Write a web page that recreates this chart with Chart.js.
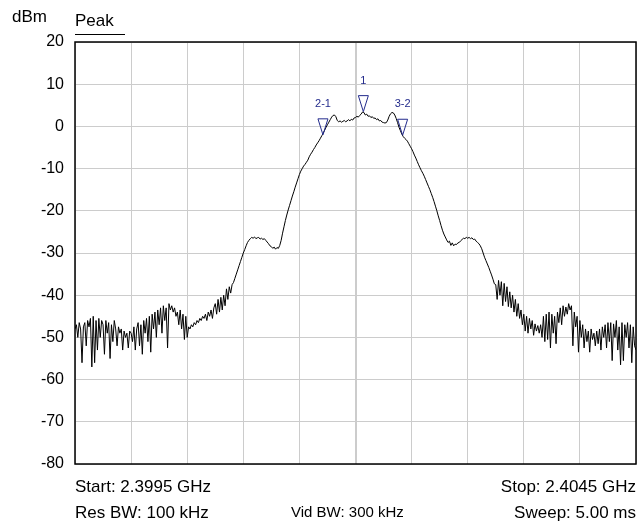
<!DOCTYPE html>
<html>
<head>
<meta charset="utf-8">
<script src="https://cdn.jsdelivr.net/npm/chart.js@4"></script>
<style>
  html, body { margin: 0; padding: 0; background: #fff; }
  #wrap { width: 640px; height: 521px; }
</style>
</head>
<body>
<div id="wrap"><canvas id="spectrum" width="640" height="521"></canvas></div>
<script>
// sweep settings (MHz)
const startMHz = 2399.5;
const stopMHz = 2404.5;

// trace levels in dBm, 401 sweep points from start to stop
const traceLevels = [
  -48, -47, -50, -46.5, -48, -56, -47.5, -46.5, -52, -46, -47.5, -45.5, -57, -45, -56, -46, -53, -45.5, -50, -46,
  -47, -54, -46, -49, -46.5, -55, -47, -51, -46, -48, -52, -47.5, -49, -48, -53, -48.5, -50, -49, -52.5, -48.5,
  -49, -51, -47.5, -53, -48, -46.5, -52, -47, -54, -46, -49, -45.5, -51, -45, -53.5, -44.5, -48, -44, -50, -43.5,
  -47, -43, -49, -42.5, -46, -43, -52.5, -42, -43.5, -42.5, -44, -43, -45, -44, -47, -43.5, -48, -44.5, -50.5, -45,
  -50, -47.5, -48, -47, -47.5, -46.5, -47, -46, -46.5, -45.5, -46, -45, -45.5, -44.5, -46, -44, -45, -43.5, -45.5, -43,
  -42, -44.5, -41, -44, -40.5, -43.5, -40, -42.5, -38.5, -41, -38, -39.5, -37.5, -37, -36, -35, -34, -33, -32, -31,
  -30, -29.2, -28.3, -27.5, -27, -26.6, -26.3, -26.5, -26.2, -26.6, -26.4, -26.3, -26.7, -26.5, -26.8, -26.6, -27, -27.4, -27.8, -28.3,
  -28.5, -28.9, -28.6, -29.1, -28.7, -28.9, -28.2, -27, -25.3, -23.8, -22.3, -21, -19.8, -18.7, -17.6, -16.5, -15.5, -14.4, -13.4, -12.4,
  -11.4, -10.6, -10, -9.4, -9, -8.5, -8, -7.2, -6.6, -6.1, -5.5, -5, -4.4, -3.9, -3.4, -2.8, -2.2, -1.6, -0.9, -0.2,
  0.4, 1, 1.6, 2.2, 2.6, 2.7, 2.3, 1.4, 1.1, 1.3, 1, 1.2, 1.4, 1.1, 1.3, 1.6, 1.3, 1.7, 1.5, 2,
  2.1, 2.4, 2.2, 2.6, 2.9, 3.4, 3.3, 2.7, 2.9, 2.4, 2.5, 2.1, 2.3, 1.9, 2, 1.6, 1.8, 1.3, 1.4, 1,
  0.9, 0.8, 0.9, 1.5, 2.4, 3, 3.3, 3.2, 2.7, 1.9, 0.9, -0.2, -1, -1.8, -2.4, -2.8, -3.1, -3.5, -4.1, -4.7,
  -5.3, -6, -6.8, -7.5, -8.3, -9.1, -9.8, -10.5, -11.1, -11.8, -12.6, -13.4, -14.2, -15, -15.9, -16.8, -17.8, -18.9, -20, -21.2,
  -22.3, -23.5, -24.6, -25.5, -26.2, -26.9, -27.5, -27.2, -28.2, -27.6, -28.3, -27.9, -28, -27.6, -27.5, -27.1, -26.8, -26.5, -26.6, -26.3,
  -26.5, -26.3, -26.6, -26.4, -26.8, -26.7, -27.2, -27.5, -27.8, -28.3, -29, -30, -31, -31.8, -32.6, -33.4, -34.3, -35.2, -36.2, -37.3,
  -37.5, -41, -36.5, -40, -36.8, -42.5, -37.2, -41.5, -38, -42.7, -39.2, -43, -40, -44, -41, -45, -42, -45.5, -43.5, -47,
  -44.5, -48.5, -45, -49, -45.5, -48, -46, -49.5, -46.8, -48.5, -47.2, -49, -47, -50, -45, -51, -44.5, -50.5, -44, -52.5,
  -44.5, -49, -45, -51.5, -44, -46.5, -43, -47, -42.5, -45, -42.8, -44.5, -42, -43.5, -42.5, -52, -44, -47.5, -45, -53.5,
  -46, -50, -47, -52.5, -48, -51, -48.5, -53.5, -48, -50.5, -49, -52, -48.5, -51.5, -48, -53, -47.5, -50, -47, -52.5,
  -46.5, -51, -46.5, -55.5, -46.8, -50, -46, -53, -47.5, -56.5, -46.5, -55.5, -47, -50, -46.5, -52.5, -47, -56, -47.5, -52,
  -53
];

// markers
const markerLabels = ['2-1', '1', '3-2'];
const markerFreqs = [2401.71, 2402.07, 2402.42];
const markerLevels = [-2, 3.5, -2.1];

// annotation texts
const refUnit = 'dBm';
const traceMode = 'Peak';
const footerLeft = ['Start: 2.3995 GHz', 'Res BW: 100 kHz'];
const footerMid = 'Vid BW: 300 kHz';
const footerRight = ['Stop: 2.4045 GHz', 'Sweep: 5.00 ms'];

const step = (stopMHz - startMHz) / (traceLevels.length - 1);
const tracePoints = traceLevels.map((v, i) => ({ x: startMHz + i * step, y: v }));

const FONT = 'Arial, "Liberation Sans", sans-serif';
const MARKER_BLUE = '#232b8c';

const frameAndText = {
  id: 'frameAndText',
  afterDraw(chart) {
    const ctx = chart.ctx;
    const area = chart.chartArea;
    const xs = chart.scales.x;
    const ys = chart.scales.y;

    ctx.save();
    // frame
    ctx.strokeStyle = '#000';
    ctx.lineWidth = 1.5;
    ctx.strokeRect(area.left, area.top, area.right - area.left, area.bottom - area.top);

    // markers
    ctx.strokeStyle = MARKER_BLUE;
    ctx.fillStyle = MARKER_BLUE;
    ctx.lineWidth = 1;
    ctx.font = '11px ' + FONT;
    ctx.textAlign = 'center';
    ctx.textBaseline = 'middle';
    markerFreqs.forEach((f, i) => {
      const px = xs.getPixelForValue(f);
      const py = ys.getPixelForValue(markerLevels[i]);
      ctx.beginPath();
      ctx.moveTo(px, py);
      ctx.lineTo(px - 5, py - 16);
      ctx.lineTo(px + 5, py - 16);
      ctx.closePath();
      ctx.stroke();
      ctx.fillText(markerLabels[i], px, py - 31);
    });

    // header + footer texts
    ctx.fillStyle = '#000';
    ctx.font = '17px ' + FONT;
    ctx.textAlign = 'left';
    ctx.fillText(refUnit, 12, 17);
    ctx.fillText(traceMode, 75, 21);
    ctx.beginPath();
    ctx.strokeStyle = '#000';
    ctx.lineWidth = 1;
    ctx.moveTo(75, 34.5);
    ctx.lineTo(125, 34.5);
    ctx.stroke();

    ctx.fillText(footerLeft[0], area.left, 487);
    ctx.fillText(footerLeft[1], area.left, 513);
    ctx.textAlign = 'right';
    ctx.fillText(footerRight[0], area.right, 487);
    ctx.fillText(footerRight[1], area.right, 513);

    ctx.textAlign = 'left';
    ctx.font = '15px ' + FONT;
    ctx.fillText(footerMid, 291, 513);
    ctx.restore();
  }
};

new Chart(document.getElementById('spectrum'), {
  type: 'line',
  data: {
    datasets: [{
      data: tracePoints,
      borderColor: '#000',
      borderWidth: 1,
      pointRadius: 0,
      tension: 0,
      fill: false
    }]
  },
  options: {
    responsive: false,
    animation: false,
    layout: { padding: { left: 0, top: 42, right: 4, bottom: 57 } },
    plugins: { legend: { display: false }, tooltip: { enabled: false } },
    scales: {
      x: {
        type: 'linear',
        min: startMHz,
        max: stopMHz,
        border: { display: false },
        grid: {
          color: '#cccccc',
          lineWidth: (c) => (Math.abs(c.tick.value - 2402) < 1e-6 ? 2 : 1),
          drawTicks: false
        },
        ticks: { stepSize: 0.5, display: false },
        afterFit: (s) => { s.height = 0; }
      },
      y: {
        min: -80,
        max: 20,
        border: { display: false },
        grid: { color: '#cccccc', drawTicks: false },
        ticks: {
          stepSize: 10,
          color: '#000',
          padding: 11,
          font: { family: FONT, size: 16 }
        },
        afterFit: (s) => { s.width = 75; }
      }
    }
  },
  plugins: [frameAndText]
});
</script>
</body>
</html>
